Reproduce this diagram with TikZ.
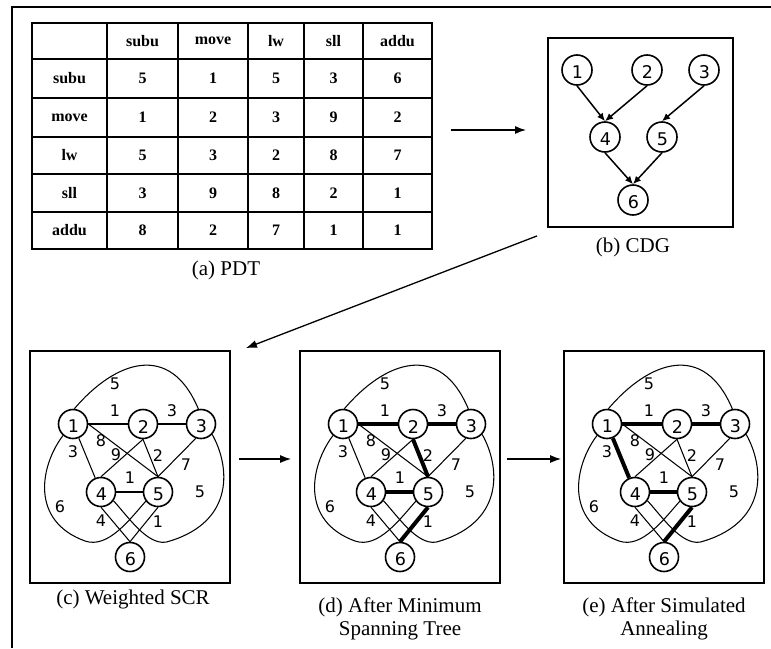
\documentclass[tikz,border=0pt]{standalone}
\usepackage{fontspec}
\setmainfont{Liberation Serif}
\newfontfamily\digitfont{DejaVu Sans}
\usetikzlibrary{arrows.meta,calc}

\tikzset{
  vtx/.style={circle, draw, line width=1.6pt, minimum size=29pt, inner sep=0pt},
  vnum/.style={font=\digitfont\fontsize{17.5}{17.5}\selectfont, inner sep=0pt, yshift=-2.5pt, xshift=0.5pt},
  wlab/.style={font=\digitfont\fontsize{16}{16}\selectfont, inner sep=0pt},
  light/.style={line width=1.05pt},
  heavy/.style={line width=4pt},
  panel/.style={draw, line width=1.8pt, minimum width=200pt, minimum height=232pt, inner sep=0pt},
  caption/.style={font=\fontsize{21}{23}\selectfont, align=center, inner sep=0pt},
  flow/.style={line width=1.3pt, -{Latex[length=11pt,width=8pt]}},
  dep/.style={line width=1.5pt, -{Latex[length=8pt,width=7pt]}},
  cell/.style={font=\bfseries\fontsize{16}{16}\selectfont, inner sep=0pt},
  grid/.style={line width=1.4pt},
  e12/.style=light, e23/.style=light, e14/.style=light, e15/.style=light,
  e24/.style=light, e25/.style=light, e35/.style=light, e45/.style=light,
  e46/.style=light, e56/.style=light
}

% One weighted SCR panel: #1,#2 = top-left corner, #3 = name prefix.
% Edge styles e12 ... e56 decide which edges are drawn heavy.
\newcommand{\scrpanel}[3]{%
  \begin{scope}[shift={(#1,#2)}]
    \node[panel] (#3box) at (100,116) {};
    \node[vtx, label={[vnum]center:1}] (#3n1) at (43,73) {};
    \node[vtx, label={[vnum]center:2}] (#3n2) at (113,73) {};
    \node[vtx, label={[vnum]center:3}] (#3n3) at (171,73) {};
    \node[vtx, label={[vnum]center:4}] (#3n4) at (71,141) {};
    \node[vtx, label={[vnum]center:5}] (#3n5) at (128,141) {};
    \node[vtx, label={[vnum]center:6}] (#3n6) at (100,206) {};
    % straight edges
    \draw[e12] (#3n1.east) -- (#3n2.west);
    \draw[e23] (#3n2.east) -- (#3n3.west);
    \draw[e14] (#3n1) -- (#3n4);
    \draw[e15] (#3n1.east) -- (#3n5.north);
    \draw[e24] (#3n2.south) -- (#3n4.north);
    \draw[e25] (#3n2.south) -- (#3n5.north);
    \draw[e35] (#3n3.250) -- (#3n5.north);
    \draw[e45] (#3n4.east) -- (#3n5.west);
    \draw[e46] (#3n4.south) -- (#3n6.north);
    \draw[e56] (#3n5.south) -- (#3n6.north);
    % curved edges
    \draw[light] (#3n1.85) .. controls (85,10) and (140,-10) .. (#3n3.100);
    \draw[light] (#3n1.229) .. controls (10,115) and (0,170) .. (55,190)
                 .. controls (78,198) and (100,168) .. (#3n5.217);
    \draw[light] (#3n3.317) .. controls (200,115) and (205,170) .. (140,190)
                 .. controls (120,198) and (100,168) .. (#3n4.325);
    % weights
    \node[wlab] (#3w13) at (85,33) {5};
    \node[wlab] (#3w12) at (85,60) {1};
    \node[wlab] (#3w23) at (142,60) {3};
    \node[wlab] (#3w15) at (71,90) {8};
    \node[wlab] (#3w14) at (43,101) {3};
    \node[wlab] (#3w24) at (86,104) {9};
    \node[wlab] (#3w25) at (128,105) {2};
    \node[wlab] (#3w35) at (156,114) {7};
    \node[wlab] (#3w45) at (100,127) {1};
    \node[wlab] (#3w34) at (170,141) {5};
    \node[wlab] (#3w16) at (30,156) {6};
    \node[wlab] (#3w46) at (71,170) {4};
    \node[wlab] (#3w56) at (128,171) {1};
  \end{scope}}

\begin{document}
\begin{tikzpicture}[x=1pt,y=-1pt]
  \useasboundingbox (0,0) rectangle (771,648);

  % outer frame (top and left sides)
  \draw[line width=1.3pt] (12,648) -- (12,7) -- (771,7);

  % (a) PDT table
  \node[draw, line width=2pt, minimum width=400pt, minimum height=226pt, inner sep=0pt] (pdt) at (232,136) {};
  \foreach \x in {107,178,248,304,363} \draw[grid] (\x,23) -- (\x,249);
  \foreach \y in {59,98,137,174,212} \draw[grid] (32,\y) -- (432,\y);
  \foreach \x/\t [count=\i] in {142.5/subu, 213/move, 276/lw, 333.5/sll, 397.5/addu}
    \node[cell] (hd\i) at (\x,41) {\t};
  \foreach \y/\t/\a/\b/\c/\d/\e [count=\i] in
      {78.5/subu/5/1/5/3/6, 117.5/move/1/2/3/9/2, 155.5/lw/5/3/2/8/7,
       193/sll/3/9/8/2/1, 230.5/addu/8/2/7/1/1} {
    \node[cell] (rw\i) at (69.5,\y) {\t};
    \node[cell] (v\i a) at (142.5,\y) {\a};
    \node[cell] (v\i b) at (213,\y) {\b};
    \node[cell] (v\i c) at (276,\y) {\c};
    \node[cell] (v\i d) at (333.5,\y) {\d};
    \node[cell] (v\i e) at (397.5,\y) {\e};
  }
  \node[caption] (capa) at (226,270) {(a) PDT};

  % (b) CDG
  \node[draw, line width=1.8pt, minimum width=185pt, minimum height=189pt, inner sep=0pt] (cdg) at (640.5,132.5) {};
  \node[vtx, minimum size=30pt, label={[vnum]center:1}] (k1) at (577,70) {};
  \node[vtx, minimum size=30pt, label={[vnum]center:2}] (k2) at (647,70) {};
  \node[vtx, minimum size=30pt, label={[vnum]center:3}] (k3) at (704,70) {};
  \node[vtx, minimum size=30pt, label={[vnum]center:4}] (k4) at (605,137) {};
  \node[vtx, minimum size=30pt, label={[vnum]center:5}] (k5) at (662,137) {};
  \node[vtx, minimum size=30pt, label={[vnum]center:6}] (k6) at (633,200) {};
  \draw[dep] (k1.south) -- (k4.north);
  \draw[dep] (k2.south) -- (k4.north);
  \draw[dep] (k3.south) -- (k5.north);
  \draw[dep] (k4.south) -- (k6.north);
  \draw[dep] (k5.south) -- (k6.north);
  \node[caption] (capb) at (633,247) {(b) CDG};

  % flow between stages
  \draw[flow, shorten <=18pt, shorten >=21pt] ([yshift=6pt]pdt.east) -- ([yshift=6pt]pdt.east -| cdg.west);

  % (c) weighted SCR
  \scrpanel{30}{351}{c}
  \node[caption] (capc) at (133,599) {(c) Weighted SCR};

  % (d) after minimum spanning tree
  \begin{scope}[e12/.style=heavy, e23/.style=heavy, e25/.style=heavy, e45/.style=heavy, e56/.style=heavy]
    \scrpanel{300}{351}{d}
  \end{scope}
  \node[caption] (capd) at (400,619) {(d) After Minimum\\Spanning Tree};

  % (e) after simulated annealing
  \begin{scope}[e12/.style=heavy, e23/.style=heavy, e14/.style=heavy, e45/.style=heavy, e56/.style=heavy]
    \scrpanel{564}{351}{e}
  \end{scope}
  \node[caption] (cape) at (664,619) {(e) After Simulated\\Annealing};

  \draw[flow] ([shift={(-10,8)}]cdg.south west) -- ([shift={(15,-2)}]cbox.north east);
  \draw[flow, shorten <=8pt, shorten >=8pt] ([yshift=8pt]cbox.east) -- ([yshift=8pt]dbox.west);
  \draw[flow, shorten <=6pt, shorten >=2pt] ([yshift=8pt]dbox.east) -- ([yshift=8pt]ebox.west);
\end{tikzpicture}
\end{document}
